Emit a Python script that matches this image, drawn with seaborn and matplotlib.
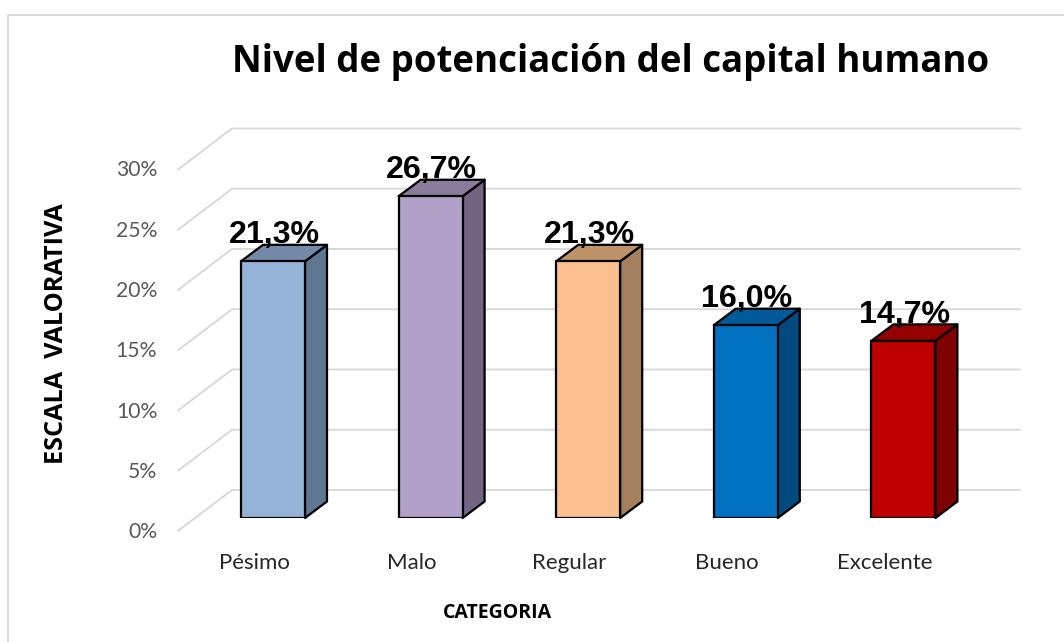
import matplotlib
matplotlib.use("Agg")
import matplotlib.pyplot as plt
from matplotlib.lines import Line2D
from matplotlib.transforms import ScaledTranslation
import seaborn as sns

categories = ["Pésimo", "Malo", "Regular", "Bueno", "Excelente"]
values = [21.3, 26.7, 21.3, 16.0, 14.7]
labels = ["21,3%", "26,7%", "21,3%", "16,0%", "14,7%"]
ticks = [0, 5, 10, 15, 20, 25, 30]
tick_labels = ["0%", "5%", "10%", "15%", "20%", "25%", "30%"]
front_colors = ["#95B3D7", "#B1A0C7", "#FAC090", "#0070C0", "#C00000"]
side_colors = ["#5F7690", "#716581", "#A5805F", "#004A80", "#7F0000"]
top_colors = ["#7389A8", "#8A7D9B", "#BE9369", "#005A9A", "#950000"]

W, H = 1064, 642
sns.set_theme(style="white")
plt.rcParams["font.family"] = ["Lato", "DejaVu Sans"]
fig = plt.figure(figsize=(W / 100, H / 100), dpi=100, facecolor="white")

# axes: y=0 lies on the bars' front floor edge
L, R, Y0, Y30 = 178, 1020, 518, 156.5
ax = fig.add_axes([L / W, 1 - Y0 / H, (R - L) / W, (Y0 - Y30) / H])
sx = 157.6  # px per category
sy = (Y0 - Y30) / 30  # px per percent
x0 = 273  # px of first bar centre
edge = 1.6

sns.barplot(x=categories, y=values, hue=categories, palette=front_colors, dodge=False,
            width=64 / sx, saturation=1, edgecolor="black", linewidth=edge, legend=False,
            ax=ax, zorder=3)
ax.set_xlim((L - x0) / sx, (R - x0) / sx)
ax.set_ylim(0, 30)
sns.despine(ax=ax, left=True, bottom=True)
ax.patch.set_alpha(0)
ax.grid(False)

# bar depth in data units
dx, dy = 22 / sx, 16.5 / sy
half = 32 / sx
for i, v in enumerate(values):
    ax.fill([i + half, i + half + dx, i + half + dx, i + half],
            [0, dy, v + dy, v], facecolor=side_colors[i], edgecolor="black",
            linewidth=edge, zorder=2.5, clip_on=False, joinstyle="round")
    ax.fill([i - half, i + half, i + half + dx, i - half + dx],
            [v, v, v + dy, v + dy], facecolor=top_colors[i], edgecolor="black",
            linewidth=edge, zorder=2.5, clip_on=False, joinstyle="round")
    ax.annotate(labels[i], xy=(i, v), xytext=(1, 18), textcoords="offset pixels",
                ha="center", va="baseline", fontsize=23.2, fontweight="bold",
                family="Liberation Sans", color="black", zorder=5, annotation_clip=False)

# walls
grid_c = "#D9D9D9"
back_y = 28 / sy
front_y = -13 / sy
xb = (232 - x0) / sx
xf = (178 - x0) / sx
xr = (1020 - x0) / sx
for t in ticks:
    ax.plot([xf, xb, xr], [t + front_y, t + back_y, t + back_y], color=grid_c,
            linewidth=1.4, zorder=1, clip_on=False, solid_joinstyle="miter")

ax.set_yticks(ticks, tick_labels)
ax.tick_params(axis="y", length=0, pad=15, labelsize=15.2, labelcolor="#595959")
ax.tick_params(axis="x", length=0, pad=25, labelsize=16, labelcolor="#262626")
off_y = ScaledTranslation(0, -12 / 100, fig.dpi_scale_trans)
off_x = ScaledTranslation(-19 / 100, 0, fig.dpi_scale_trans)
for lab in ax.get_yticklabels():
    lab.set_transform(lab.get_transform() + off_y)
for lab in ax.get_xticklabels():
    lab.set_transform(lab.get_transform() + off_x)

ax.set_xlabel("CATEGORIA", fontsize=14, fontweight="bold", color="black", family="Open Sans")
ax.xaxis.set_label_coords(497 / W, 1 - 613 / H, transform=fig.transFigure)
ax.xaxis.label.set_va("center")
ax.set_ylabel("ESCALA  VALORATIVA", fontsize=18.2, fontweight="bold", color="black", family="Open Sans")
ax.yaxis.set_label_coords(57 / W, 1 - 334 / H, transform=fig.transFigure)
ax.yaxis.label.set_va("center")
ax.set_title("Nivel de potenciación del capital humano", fontsize=26.4, fontweight="bold",
             color="black", x=(611 - L) / (R - L), y=(Y0 - 62) / (Y0 - Y30), va="center", pad=0,
             family="Open Sans")

# chart frame
fig.add_artist(Line2D([8 / W, 8 / W, 1], [0, 1 - 15 / H, 1 - 15 / H], color="#D9D9D9", linewidth=1.4))

fig.savefig("out.png", dpi=100, facecolor="white")
